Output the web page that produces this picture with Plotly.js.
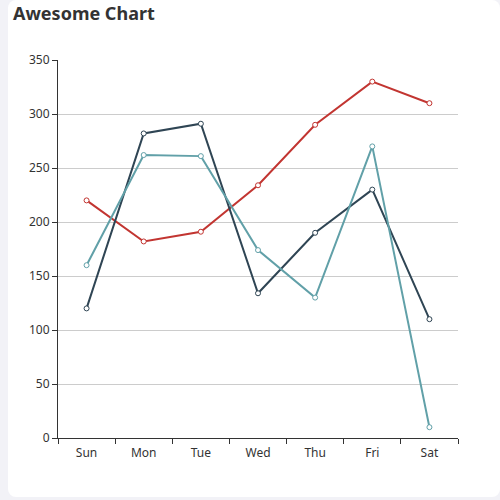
<!DOCTYPE html>
<html><head><meta charset="utf-8">
<script src="https://cdn.plot.ly/plotly-3.0.1.min.js"></script>
<style>
html,body{margin:0;padding:0;background:#f2f2f7;width:500px;height:500px;overflow:hidden;}
#card{position:absolute;left:8px;top:0;width:492px;height:497px;background:#fff;border-radius:8px;}
#chart{width:492px;height:497px;}
</style></head><body>
<div id="card"><div id="chart"></div></div>
<script>
const categories = ['Sun','Mon','Tue','Wed','Thu','Fri','Sat'];
const seriesA = [220, 182, 191, 234, 290, 330, 310];
const seriesB = [120, 282, 291, 134, 190, 230, 110];
const seriesC = [160, 262, 261, 174, 130, 270, 10];
const colors = ['#c23531', '#2f4554', '#61a0a8'];

function tr(y, c){
  return {x: categories, y: y, type:'scatter', mode:'lines+markers',
    line:{color:c, width:2},
    marker:{symbol:'circle', size:5, color:'#fff', line:{color:c, width:1}},
    hoverinfo:'none', cliponaxis:false};
}
const data = [tr(seriesA, colors[0]), tr(seriesB, colors[1]), tr(seriesC, colors[2])];
const layout = {
  width:492, height:497,
  margin:{l:50, r:42, t:60, b:59},
  paper_bgcolor:'rgba(0,0,0,0)', plot_bgcolor:'rgba(0,0,0,0)',
  showlegend:false,
  font:{family:'"Noto Sans", sans-serif', size:12, color:'#333'},
  title:{text:'<b>Awesome Chart</b>', font:{size:18, color:'#333', family:'"Noto Sans", sans-serif'},
    xref:'container', yref:'container', x:5/492, xanchor:'left', y:1-7/497, yanchor:'top'},
  xaxis:{type:'category', range:[-0.5,6.5], showgrid:false, showline:true, linecolor:'#333', linewidth:1,
    ticks:'outside', tickson:'boundaries', ticklen:5, tickcolor:'#333', ticklabelstandoff:4,
    tickfont:{size:12,color:'#333'}, zeroline:false, fixedrange:true},
  yaxis:{range:[0,350], dtick:50, showgrid:true, gridcolor:'#ccc', gridwidth:1, showline:true, linecolor:'#333', linewidth:1,
    ticks:'outside', ticklen:5, tickcolor:'#333', tickfont:{size:12,color:'#333'}, zeroline:false, fixedrange:true}
};
Plotly.newPlot('chart', data, layout, {displayModeBar:false, staticPlot:true});
</script></body></html>
